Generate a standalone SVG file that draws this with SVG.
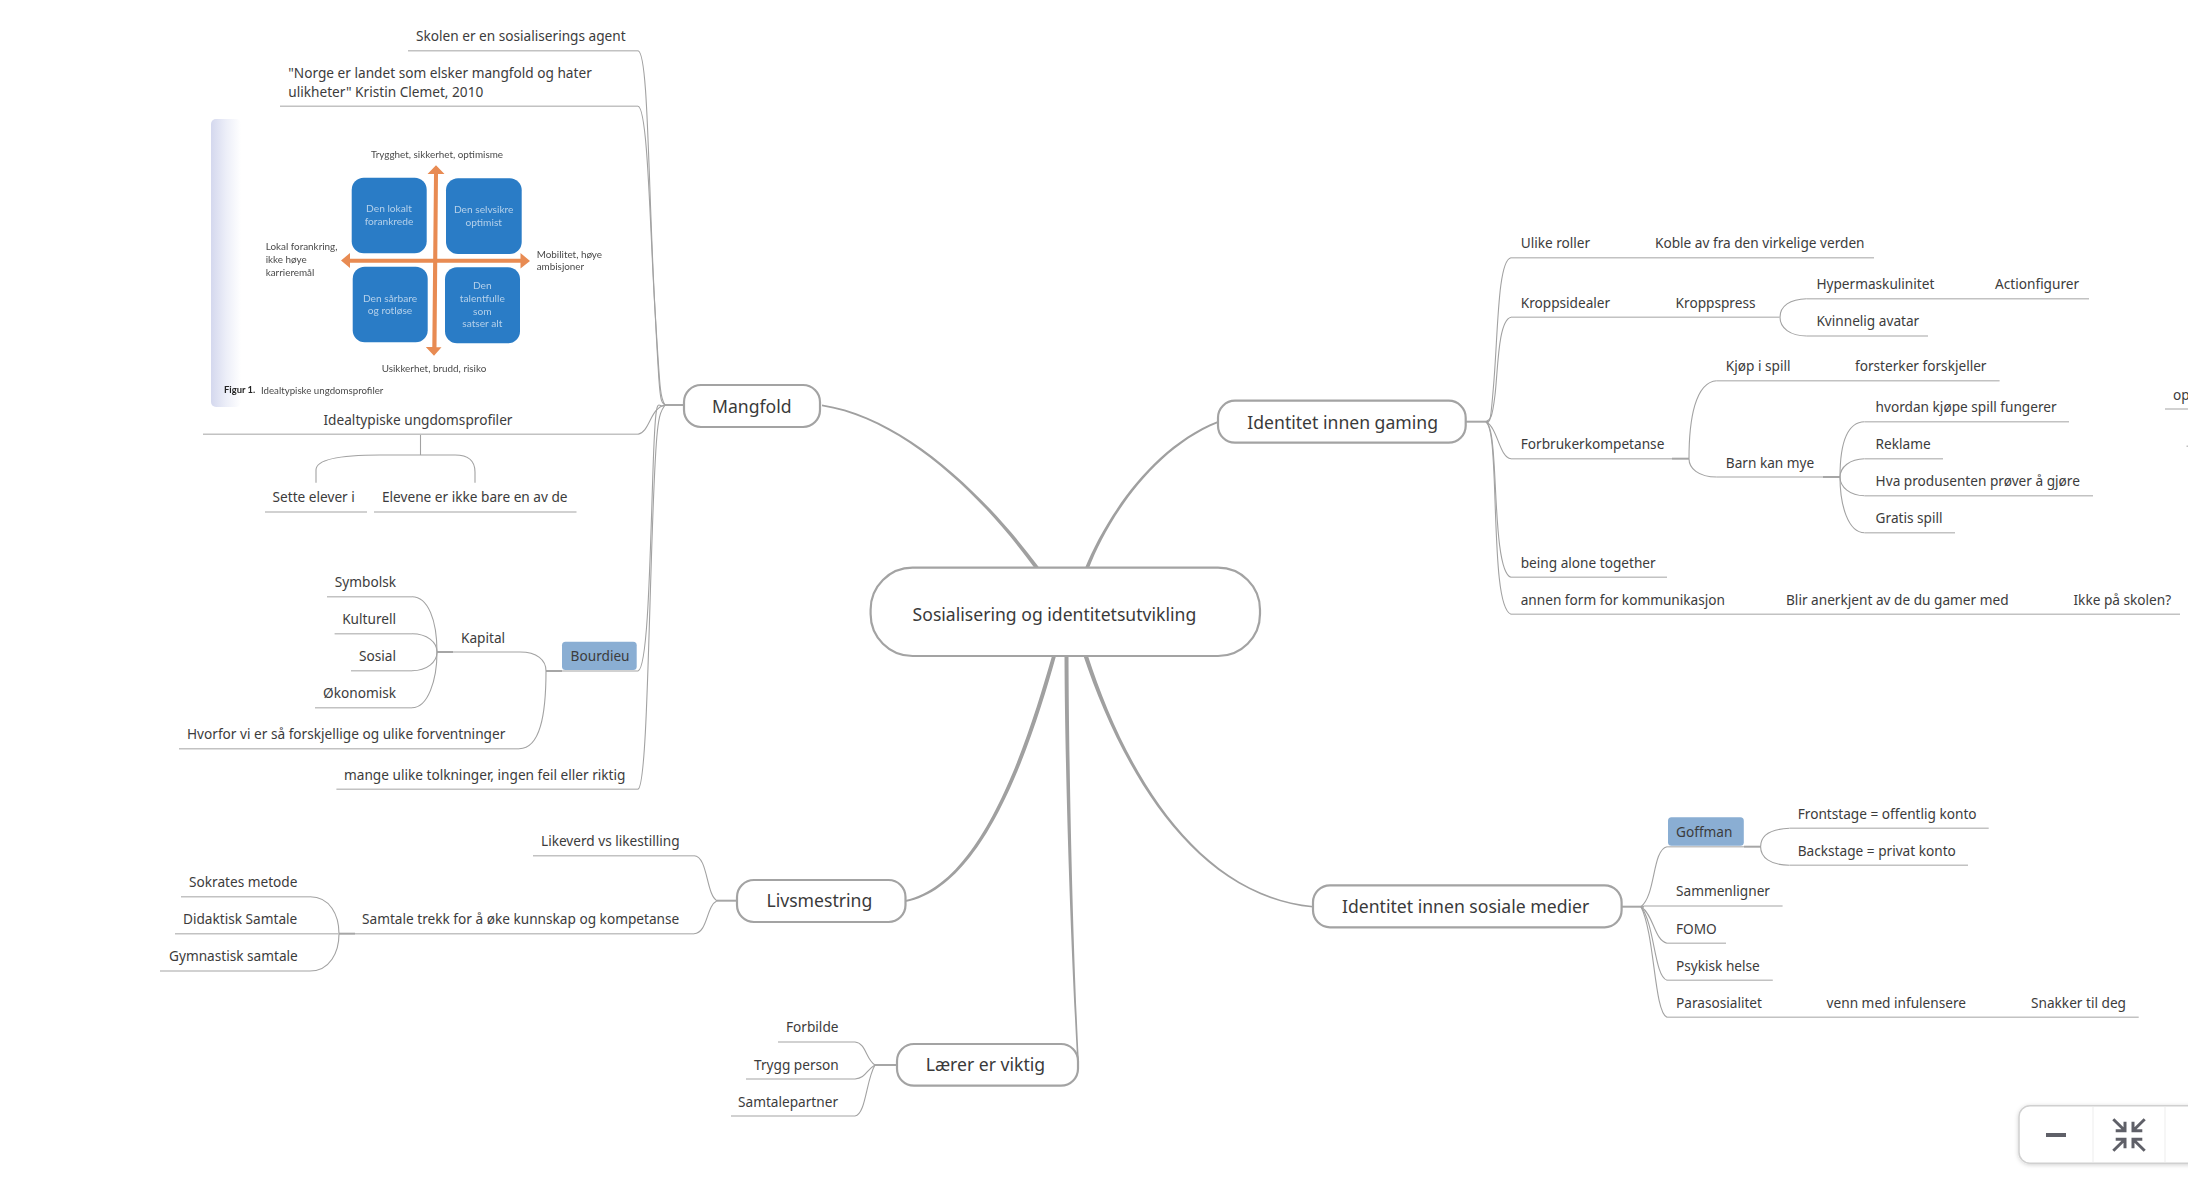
<svg xmlns="http://www.w3.org/2000/svg" width="2188" height="1180" viewBox="0 0 2188 1180">
<defs>
<style>
text{font-family:"Noto Sans","Open Sans",sans-serif;font-size:13.65px;fill:#3c3c3c}
.e{text-anchor:end}
.ul{stroke:#c2c2c2;stroke-width:1.5;fill:none}
.c{stroke:#a2a2a2;stroke-width:1.1;fill:none}
.s{stroke:#a6a6a6;stroke-width:2;fill:none}
.t{fill:#a0a0a0;stroke:none}
.n{fill:#fff;stroke:#a3a3a3;stroke-width:2.2}
.l1{font-size:17.6px;fill:#3a3a3a}
.tag{fill:#8aaed3}
.pic{font-family:"Lato","Noto Sans",sans-serif;font-size:9.9px;fill:#4a4a4a}
.in{text-anchor:middle;fill:#b4d0ea;font-size:10.2px}
.b{fill:#2a7cc6}
.o{fill:#e88b52}
.ic{stroke:#5f6068;stroke-width:3;fill:none}
</style>
<linearGradient id="edge" x1="0" x2="1" y1="0" y2="0"><stop offset="0" stop-color="#d4d8ee"/><stop offset="0.5" stop-color="#eceef8"/><stop offset="1" stop-color="#fff"/></linearGradient>
<filter id="soft" x="-5%" y="-5%" width="110%" height="110%"><feGaussianBlur stdDeviation="0.5"/></filter>
<filter id="sh" x="-10%" y="-20%" width="120%" height="140%"><feDropShadow dx="0" dy="1" stdDeviation="2" flood-color="#000" flood-opacity="0.18"/></filter>
</defs>
<rect width="2188" height="1180" fill="#fff"/>

<g id="connectors">
<path class="t" d="M1034.500 568C984 498 904.300 419 822 406.200V404.400C905.700 417.200 986 496 1039.500 568Z"/>
<path class="t" d="M1085 568C1105 519.500 1151 447 1218 421.100V422.900C1153 449 1107 520.500 1089 568Z"/>
<path class="t" d="M1083.500 656C1118.700 760.800 1189.300 895.700 1313 907.500V905.900C1190.700 894.300 1121.300 759.200 1088 656Z"/>
<path class="t" d="M1052 656C1028 740 983 884 905.500 900V902C985 888 1032 742 1056 656Z"/>
<path class="t" d="M1064.500 656C1065 780 1071 950 1077.200 1060H1078.800C1073 950 1069 780 1068.500 656Z"/>
<!-- Mangfold -->
<path class="s" d="M664 405H684"/>
<path class="c" d="M638 50.700C648 52 648 170 654 290S660 400 665 405"/>
<path class="c" d="M638 106.300C648 108 650 230 655 310S660 398 665 405"/>
<path class="c" d="M638 434.300C650 432 650 408 665 405"/>
<path class="c" d="M638 671C648 668 650 560 653 470S658 412 665 405"/>
<path class="c" d="M638 789.300C646 786 648 660 652 540S658 415 665 405"/>
<path class="c" d="M420.500 434.300V455"/>
<path class="c" d="M316 482.700V470C316 458 345 455 380 455H455C468 455 475 460 475 472V482.700"/>
<path class="s" d="M546 671H562"/>
<path class="c" d="M520 652C537 652 546 660 546 671C546 715 540 749 519 748.700"/>
<path class="s" d="M437 652H453"/>
<path class="c" d="M412 596.700C428 596.700 437 620 437 652C437 680 428 707.700 412 707.700"/>
<path class="c" d="M412 633.700C427 633.700 437 642 437 652C437 662 427 670.700 412 670.700"/>
<!-- Livsmestring -->
<path class="s" d="M717 900.700H737"/>
<path class="c" d="M694 855.700C708 856 706 895 717 900.700"/>
<path class="c" d="M694 933.700C708 933 706 906 717 900.700"/>
<path class="s" d="M339 933.700H355"/>
<path class="c" d="M310 896.700C330 896.700 339 915 339 933.700C339 952 330 971 310 971"/>
<!-- Lærer -->
<path class="s" d="M875 1065H897"/>
<path class="c" d="M855 1042C866 1043 866 1060 875 1065"/>
<path class="c" d="M855 1079C866 1078 866 1070 875 1065"/>
<path class="c" d="M855 1116C866 1114 866 1080 875 1065"/>
<!-- gaming -->
<path class="s" d="M1466 421.700H1489"/>
<path class="c" d="M1511 257.700C1498 260 1498 330 1494 380S1490 420 1486 421.700"/>
<path class="c" d="M1511 317.300C1498 320 1498 370 1495 395S1490 420 1486 421.700"/>
<path class="c" d="M1511 458.700C1499 457 1498 428 1486 421.700"/>
<path class="c" d="M1511 577.300C1499 574 1497 520 1495 480S1491 425 1486 421.700"/>
<path class="c" d="M1511 614.300C1499 610 1497 560 1495 500S1491 427 1486 421.700"/>
<path class="c" d="M1806.800 298.700C1790 299 1780 306 1780 317.300C1780 328 1790 336 1806.800 336"/>
<path class="s" d="M1672 458.700H1689"/>
<path class="c" d="M1716.800 380.700C1695 382 1689 420 1689 458.700C1689 468 1698 477 1716.800 477"/>
<path class="s" d="M1823 477H1840"/>
<path class="c" d="M1864.600 421.700C1848 422 1840 440 1840 477C1840 505 1848 532.700 1864.600 532.700"/>
<path class="c" d="M1864.600 458.700C1850 459 1840 467 1840 477C1840 487 1850 495.700 1864.600 495.700"/>
<!-- sosiale -->
<path class="s" d="M1622 906.700H1644"/>
<path class="c" d="M1667 846.700C1652 850 1656 895 1641 906.700"/>
<path class="c" d="M1667 943.300C1654 940 1654 915 1641 906.700"/>
<path class="c" d="M1667 980.300C1654 976 1655 925 1641 906.700"/>
<path class="c" d="M1667 1017.300C1654 1012 1655 935 1641 906.700"/>
<path class="s" d="M1744 846.700H1760.600"/>
<path class="c" d="M1789.600 828.300C1770 829 1760.600 836 1760.600 846.700C1760.600 857 1770 865.300 1789.600 865.300"/>
</g>

<g id="root"><rect class="n" x="870.600" y="567.700" width="389.400" height="88.300" rx="42"/><text class="l1" x="912.600" y="621">Sosialisering og identitetsutvikling</text></g>
<g id="mangfold"><rect class="n" x="684" y="385" width="136" height="42" rx="17"/><text class="l1" x="712" y="413">Mangfold</text></g>
<g id="gaming"><rect class="n" x="1218" y="400.700" width="247.700" height="42" rx="17"/><text class="l1" x="1247.300" y="429">Identitet innen gaming</text></g>
<g id="sosiale"><rect class="n" x="1313" y="885.300" width="308.600" height="42" rx="17"/><text class="l1" x="1342" y="912.700">Identitet innen sosiale medier</text></g>
<g id="livsmestring"><rect class="n" x="737" y="880" width="168.500" height="42" rx="17"/><text class="l1" x="766.500" y="907.300">Livsmestring</text></g>
<g id="laerer"><rect class="n" x="897" y="1044" width="181" height="41.700" rx="17"/><text class="l1" x="925.700" y="1070.700">Lærer er viktig</text></g>

<g id="skolen"><text x="416" y="41">Skolen er en sosialiserings agent</text><path class="ul" d="M408 50.700H638"/></g>
<g id="norge"><text x="288.300" y="78">"Norge er landet som elsker mangfold og hater</text><text x="288.300" y="97.300">ulikheter" Kristin Clemet, 2010</text><path class="ul" d="M280 106.300H638"/></g>

<g id="figur">
<rect x="211" y="119" width="30" height="288" rx="5" fill="url(#edge)"/>
<g filter="url(#soft)">
<rect class="b" x="351.700" y="177.700" width="75" height="75.600" rx="12"/>
<rect class="b" x="446" y="178.300" width="75.700" height="75.700" rx="12"/>
<rect class="b" x="352.700" y="266.700" width="75" height="75.600" rx="12"/>
<rect class="b" x="445" y="267.300" width="75" height="76" rx="12"/>
<path class="o" d="M436 165.200L427.500 174H434L432.300 347H425.800L434 355.700L441.500 347.300H436.500L438 174H444.500Z"/>
<path class="o" d="M341 260.500L350 253V258.700H520.500V253L530 261L520.500 268.500V262.800H350V268Z"/>
<text class="pic" x="371" y="158.300">Trygghet, sikkerhet, optimisme</text>
<text class="pic in" x="389" y="212">Den lokalt</text><text class="pic in" x="389" y="225">forankrede</text>
<text class="pic in" x="483.700" y="213">Den selvsikre</text><text class="pic in" x="483.700" y="226">optimist</text>
<text class="pic" x="265.700" y="250.300">Lokal forankring,</text><text class="pic" x="265.700" y="263">ikke høye</text><text class="pic" x="265.700" y="275.500">karrieremål</text>
<text class="pic" x="536.700" y="257.700">Mobilitet, høye</text><text class="pic" x="536.700" y="270.300">ambisjoner</text>
<text class="pic in" x="390" y="301.700">Den sårbare</text><text class="pic in" x="390" y="314.300">og rotløse</text>
<text class="pic in" x="482.300" y="289.300">Den</text><text class="pic in" x="482.300" y="302">talentfulle</text><text class="pic in" x="482.300" y="314.700">som</text><text class="pic in" x="482.300" y="327.400">satser alt</text>
<text class="pic" x="381.700" y="371.700">Usikkerhet, brudd, risiko</text>
<text class="pic" x="224" y="392.700" font-weight="700" style="font-size:9.400px;fill:#222">Figur 1.</text>
<text class="pic" x="261" y="393.600" style="font-size:9.700px">Idealtypiske ungdomsprofiler</text>
</g>
</g>

<g id="idealtypiske"><text x="323.500" y="425">Idealtypiske ungdomsprofiler</text><path class="ul" d="M203 434.300H638"/></g>
<g id="sette"><text x="272.600" y="501.700">Sette elever i</text><path class="ul" d="M265 512H367"/></g>
<g id="elevene"><text x="382" y="501.700">Elevene er ikke bare en av de</text><path class="ul" d="M374 512H576.500"/></g>
<g id="symbolsk"><text class="e" x="396" y="586.700">Symbolsk</text><path class="ul" d="M327 596.700H412"/></g>
<g id="kulturell"><text class="e" x="396" y="623.700">Kulturell</text><path class="ul" d="M334.600 633.700H412"/></g>
<g id="sosial"><text class="e" x="396" y="660.700">Sosial</text><path class="ul" d="M351 670.700H412"/></g>
<g id="okonomisk"><text class="e" x="396" y="697.700">Økonomisk</text><path class="ul" d="M315 707.700H412"/></g>
<g id="kapital"><text x="461" y="642.700">Kapital</text><path class="ul" d="M453 652H520"/></g>
<g id="hvorfor"><text x="187" y="739">Hvorfor vi er så forskjellige og ulike forventninger</text><path class="ul" d="M179 748.700H519"/></g>
<g id="bourdieu"><rect class="tag" x="562" y="641.700" width="74.700" height="28.300" rx="3.500"/><text x="570.600" y="660.700">Bourdieu</text><path class="ul" d="M562 671H638"/></g>
<g id="mange"><text x="344" y="780">mange ulike tolkninger, ingen feil eller riktig</text><path class="ul" d="M336.400 789.300H638"/></g>

<g id="likeverd"><text x="541" y="846">Likeverd vs likestilling</text><path class="ul" d="M533 855.700H694"/></g>
<g id="samtale"><text x="362" y="924">Samtale trekk for å øke kunnskap og kompetanse</text><path class="ul" d="M355 933.700H694"/></g>
<g id="sokrates"><text x="189" y="886.700">Sokrates metode</text><path class="ul" d="M181 896.700H310"/></g>
<g id="didaktisk"><text x="183" y="923.700">Didaktisk Samtale</text><path class="ul" d="M175 933.700H339"/></g>
<g id="gymnastisk"><text x="169" y="961">Gymnastisk samtale</text><path class="ul" d="M160 971H310"/></g>

<g id="forbilde"><text x="786" y="1031.700">Forbilde</text><path class="ul" d="M778 1042H855"/></g>
<g id="trygg"><text x="754" y="1070">Trygg person</text><path class="ul" d="M746 1079H855"/></g>
<g id="samtalepartner"><text x="738" y="1107">Samtalepartner</text><path class="ul" d="M731 1116H855"/></g>

<g id="ulike"><text x="1520.700" y="247.700">Ulike roller</text><text x="1655" y="247.700">Koble av fra den virkelige verden</text><path class="ul" d="M1511 257.700H1874"/></g>
<g id="kropp"><text x="1520.700" y="308">Kroppsidealer</text><text x="1675.600" y="308">Kroppspress</text><path class="ul" d="M1511 317.300H1780"/></g>
<g id="hyper"><text x="1816.400" y="289.300">Hypermaskulinitet</text><text x="1995" y="289.300">Actionfigurer</text><path class="ul" d="M1806.800 298.700H2089"/></g>
<g id="kvinnelig"><text x="1816.400" y="326.300">Kvinnelig avatar</text><path class="ul" d="M1806.800 336H1928"/></g>
<g id="forbruker"><text x="1520.700" y="449">Forbrukerkompetanse</text><path class="ul" d="M1511 458.700H1672"/></g>
<g id="kjop"><text x="1725.800" y="371">Kjøp i spill</text><text x="1855" y="371">forsterker forskjeller</text><path class="ul" d="M1716.800 380.700H1999.600"/></g>
<g id="barn"><text x="1725.800" y="468">Barn kan mye</text><path class="ul" d="M1716.800 477H1823"/></g>
<g id="hvordan"><text x="1875.600" y="412">hvordan kjøpe spill fungerer</text><path class="ul" d="M1864.600 421.700H2069"/></g>
<g id="reklame"><text x="1875.600" y="449">Reklame</text><path class="ul" d="M1864.600 458.700H1943"/></g>
<g id="hva"><text x="1875.600" y="486">Hva produsenten prøver å gjøre</text><path class="ul" d="M1864.600 495.700H2093"/></g>
<g id="gratis"><text x="1875.600" y="523">Gratis spill</text><path class="ul" d="M1864.600 532.700H1955"/></g>
<g id="being"><text x="1520.700" y="567.700">being alone together</text><path class="ul" d="M1511 577.300H1667"/></g>
<g id="annen"><text x="1520.700" y="604.700">annen form for kommunikasjon</text><text x="1786" y="604.700">Blir anerkjent av de du gamer med</text><text x="2073.500" y="604.700">Ikke på skolen?</text><path class="ul" d="M1511 614.300H2180"/></g>
<g id="op"><text x="2173" y="400">op</text><path class="ul" d="M2165 409H2188"/><path class="ul" d="M2186.500 446.300H2188"/></g>

<g id="goffman"><rect class="tag" x="1668" y="817.300" width="75.800" height="28.400" rx="3.500"/><text x="1676" y="836.700">Goffman</text><path class="ul" d="M1667 846.700H1744"/></g>
<g id="frontstage"><text x="1797.700" y="819">Frontstage = offentlig konto</text><path class="ul" d="M1789.600 828.300H1988.700"/></g>
<g id="backstage"><text x="1797.700" y="856">Backstage = privat konto</text><path class="ul" d="M1789.600 865.300H1968"/></g>
<g id="sammenligner"><text x="1676" y="896">Sammenligner</text><path class="ul" d="M1644 906H1782.600"/></g>
<g id="fomo"><text x="1676" y="934">FOMO</text><path class="ul" d="M1667 943.300H1726"/></g>
<g id="psykisk"><text x="1676" y="970.700">Psykisk helse</text><path class="ul" d="M1667 980.300H1772.800"/></g>
<g id="para"><text x="1676" y="1007.700">Parasosialitet</text><text x="1826.600" y="1007.700">venn med infulensere</text><text x="2031" y="1007.700">Snakker til deg</text><path class="ul" d="M1667 1017.300H2138.700"/></g>

<g id="panel">
<rect x="2019" y="1105.700" width="200" height="57.600" rx="11" fill="#fff" stroke="#d0d0d0" stroke-width="1.500" filter="url(#sh)"/>
<path d="M2093 1107V1162M2165 1107V1162" stroke="#f3f3f3" stroke-width="1.500"/>
<rect x="2046" y="1133" width="20" height="4" fill="#5f6068"/>
<path class="ic" d="M2113.300 1119.300L2125 1130.700M2115.700 1130.700H2125V1121.700M2144.700 1119.300L2133 1130.700M2142.300 1130.700H2133V1121.700M2113.300 1150.700L2125 1139.300M2115.700 1139.300H2125V1148.300M2144.700 1150.700L2133 1139.300M2142.300 1139.300H2133V1148.300"/>
</g>
</svg>
